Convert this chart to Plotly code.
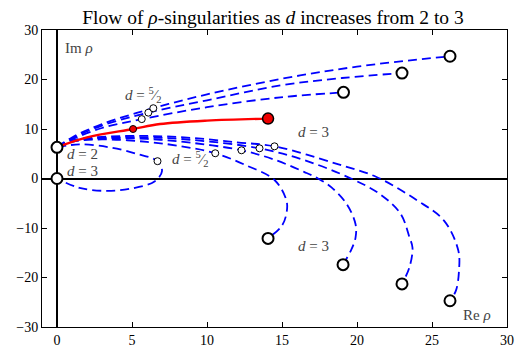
import plotly.graph_objects as go

# curves start at d = 2 (all from the same point), pass a marker at d = 5/2, end at d = 3
start_x, start_y = 0.0, 6.3

red_x = [0.0, 2.0, 5.07, 6.87, 10.0, 14.07]
red_y = [6.3, 8.3, 10.0, 11.0, 11.7, 12.1]

u1_x = [0.0, 1.0, 3.0, 5.65, 10.0, 14.9, 19.1]
u1_y = [6.3, 7.9, 10.2, 12.0, 14.4, 16.4, 17.4]
u2_x = [0.0, 1.0, 3.0, 6.09, 10.0, 14.9, 19.0, 23.0]
u2_y = [6.3, 8.1, 10.7, 13.3, 15.8, 18.8, 20.3, 21.3]
u3_x = [0.0, 1.0, 3.0, 6.42, 10.0, 14.9, 20.0, 26.2]
u3_y = [6.3, 8.3, 11.0, 14.2, 17.0, 20.1, 22.6, 24.7]

l0_x = [0.0, 1.5, 3.5, 5.3, 6.7, 7.0, 6.5, 5.0, 3.3, 1.5, 0.0]
l0_y = [6.3, 6.9, 6.3, 5.0, 3.5, 1.5, -0.6, -2.0, -2.5, -1.9, 0.0]
l1_x = [0.0, 1.0, 3.0, 6.0, 8.5, 10.55, 12.5, 14.5, 15.3, 15.3, 15.0, 14.07]
l1_y = [6.3, 7.4, 7.9, 7.4, 6.4, 5.1, 2.8, -0.3, -4.5, -7.0, -9.5, -12.1]
l2_x = [0.0, 1.0, 3.0, 6.0, 9.0, 12.3, 14.5, 16.5, 17.4, 18.3, 19.3, 19.9, 19.9, 19.6, 19.07]
l2_y = [6.3, 7.5, 8.1, 8.0, 7.2, 5.7, 3.8, 1.3, 0.0, -1.8, -5.1, -9.2, -12.0, -14.5, -17.4]
l3_x = [0.0, 1.0, 3.0, 6.0, 9.0, 13.5, 16.5, 19.6, 21.5, 22.9, 23.5, 23.7, 23.5, 23.0]
l3_y = [6.3, 7.6, 8.2, 8.3, 7.8, 6.1, 3.7, 0.0, -3.1, -7.1, -11.9, -14.0, -17.9, -21.3]
l4_x = [0.0, 1.0, 3.0, 6.0, 9.0, 12.0, 14.5, 18.6, 21.3, 24.0, 25.8, 26.75, 26.8, 26.6, 26.2]
l4_y = [6.3, 7.7, 8.4, 8.6, 8.2, 7.3, 6.5, 3.0, 0.3, -4.4, -8.5, -14.5, -18.6, -22.6, -24.7]

half_x = [5.65, 6.09, 6.42, 6.7, 10.55, 12.3, 13.5, 14.5]
half_y = [12.0, 13.3, 14.2, 3.5, 5.1, 5.7, 6.1, 6.5]
end_x = [0.0, 19.1, 23.0, 26.2, 0.0, 14.07, 19.07, 23.0, 26.2]
end_y = [6.3, 17.4, 21.3, 24.7, 0.0, -12.1, -17.4, -21.3, -24.7]

blue_curves = [(u1_x, u1_y), (u2_x, u2_y), (u3_x, u3_y),
               (l0_x, l0_y), (l1_x, l1_y), (l2_x, l2_y), (l3_x, l3_y), (l4_x, l4_y)]

FONT = "Liberation Serif"

fig = go.Figure()
for cx, cy in blue_curves:
    fig.add_trace(go.Scatter(x=cx, y=cy, mode="lines",
                             line=dict(color="#0000ff", width=1.8, dash="9px,5px",
                                       shape="spline", smoothing=1.0),
                             hoverinfo="skip"))
fig.add_trace(go.Scatter(x=red_x, y=red_y, mode="lines",
                         line=dict(color="#ff0000", width=2.4, shape="spline", smoothing=1.0)))
fig.add_trace(go.Scatter(x=[red_x[2]], y=[red_y[2]], mode="markers",
                         marker=dict(size=7, color="#ee0000", line=dict(color="black", width=1))))
fig.add_trace(go.Scatter(x=[red_x[-1]], y=[red_y[-1]], mode="markers",
                         marker=dict(size=11, color="#ee0000", line=dict(color="black", width=1.5))))
fig.add_trace(go.Scatter(x=half_x, y=half_y, mode="markers",
                         marker=dict(size=7, color="white", line=dict(color="black", width=1))))
fig.add_trace(go.Scatter(x=end_x, y=end_y, mode="markers",
                         marker=dict(size=11, color="white", line=dict(color="black", width=2))))

txt = dict(family=FONT, size=15, color="#444")
labels = [
    (0.5, 4.9, "<i>d</i> = 2"),
    (0.5, 1.6, "<i>d</i> = 3"),
    (4.4, 16.8, "<i>d</i> = <sup>5</sup>⁄<sub>2</sub>"),
    (7.5, 3.9, "<i>d</i> = <sup>5</sup>⁄<sub>2</sub>"),
    (15.9, 9.3, "<i>d</i> = 3"),
    (15.9, -13.7, "<i>d</i> = 3"),
    (0.4, 26.3, "Im <i>ρ</i>"),
    (26.9, -27.6, "Re <i>ρ</i>"),
]
for lx, ly, lt in labels:
    fig.add_annotation(x=lx, y=ly, text=lt, showarrow=False, xanchor="left",
                       yanchor="middle", font=txt)

axis = dict(showgrid=False, showline=True, mirror="ticks", linecolor="black", linewidth=1,
            ticks="inside", ticklen=5, tickcolor="black", zeroline=True,
            zerolinecolor="black", zerolinewidth=1.5, automargin=False,
            tickfont=dict(family=FONT, size=14, color="black"))
fig.update_xaxes(range=[-1, 30], tickvals=[0, 5, 10, 15, 20, 25, 30], **axis)
fig.update_yaxes(range=[-30, 30], tickvals=[-30, -20, -10, 0, 10, 20, 30], **axis)
fig.update_layout(
    width=525, height=356,
    margin=dict(l=42, r=18, t=30, b=29),
    paper_bgcolor="white", plot_bgcolor="white",
    showlegend=False,
    title=dict(text="Flow of <i>ρ</i>-singularities as <i>d</i> increases from 2 to 3",
               x=0.52, xanchor="center", y=0.952, yanchor="middle",
               font=dict(family=FONT, size=19.5, color="black")),
)
# drop the default 8px page margin so the figure sits at the window's corner
fig.write_html("out.html", config={"displayModeBar": False},
               post_script="document.body.style.margin='0';")
